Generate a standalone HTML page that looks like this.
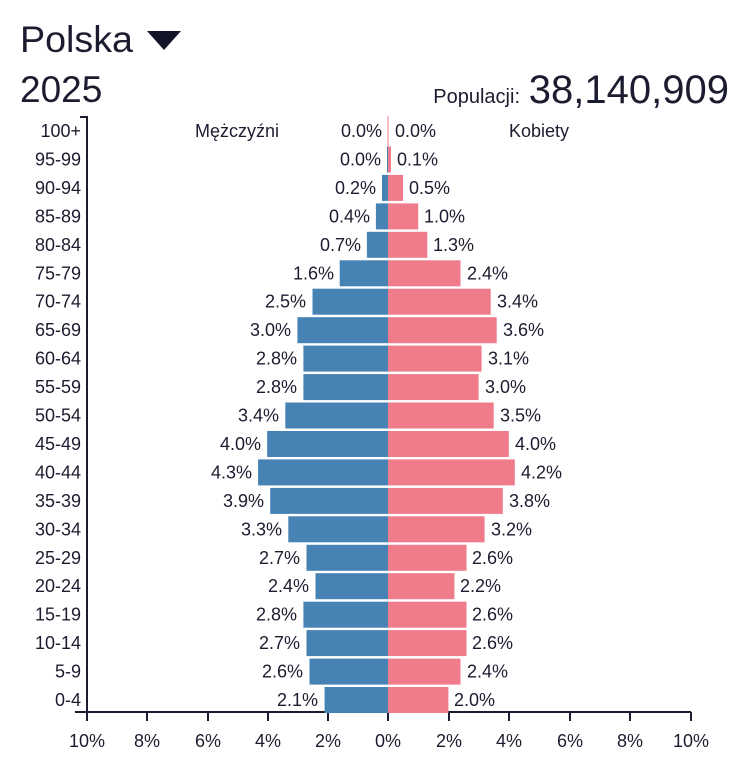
<!DOCTYPE html>
<html><head><meta charset="utf-8"><style>
html,body{margin:0;padding:0;background:#fff;width:750px;height:775px;overflow:hidden}
svg{display:block;font-family:"Liberation Sans",sans-serif;fill:#1c1c30}
</style></head><body>
<svg width="750" height="775" viewBox="0 0 750 775">
<text x="20" y="52" font-size="37" textLength="113" lengthAdjust="spacingAndGlyphs">Polska</text>
<polygon points="147,31 181,31 164,50" fill="#141428"/>
<text x="20" y="102" font-size="37">2025</text>
<text x="520" y="103" font-size="20" text-anchor="end">Populacji:</text>
<text x="729" y="103" font-size="40" text-anchor="end">38,140,909</text>
<g stroke="#1c1c30" stroke-width="2" fill="none">
<path d="M80,117 H87 V712"/>
<path d="M75,712 H691"/>
<path d="M87,712v9M147,712v9M208,712v9M268,712v9M328,712v9M388,712v9M449,712v9M509,712v9M570,712v9M630,712v9M691,712v9"/>
</g>
<g font-size="18" text-anchor="middle">
<text x="87" y="747">10%</text><text x="147" y="747">8%</text><text x="208" y="747">6%</text><text x="268" y="747">4%</text><text x="328" y="747">2%</text><text x="388" y="747">0%</text><text x="449" y="747">2%</text><text x="509" y="747">4%</text><text x="570" y="747">6%</text><text x="630" y="747">8%</text><text x="691" y="747">10%</text>
</g>
<line x1="388" y1="116" x2="388" y2="146" stroke="#f07b8a" stroke-width="1"/>
<text x="237" y="137" font-size="18" text-anchor="middle">Mężczyźni</text>
<text x="539" y="137" font-size="18" text-anchor="middle">Kobiety</text>
<g fill="#4682b4">
<rect x="387" y="146.5" width="1" height="26"/>
<rect x="382" y="174.9" width="6" height="26"/>
<rect x="375.9" y="203.4" width="12.1" height="26"/>
<rect x="366.9" y="231.8" width="21.1" height="26"/>
<rect x="339.7" y="260.3" width="48.3" height="26"/>
<rect x="312.5" y="288.7" width="75.5" height="26"/>
<rect x="297.4" y="317.2" width="90.6" height="26"/>
<rect x="303.4" y="345.6" width="84.6" height="26"/>
<rect x="303.4" y="374.1" width="84.6" height="26"/>
<rect x="285.3" y="402.5" width="102.7" height="26"/>
<rect x="267.2" y="431" width="120.8" height="26"/>
<rect x="258.1" y="459.4" width="129.9" height="26"/>
<rect x="270.2" y="487.9" width="117.8" height="26"/>
<rect x="288.3" y="516.3" width="99.7" height="26"/>
<rect x="306.5" y="544.8" width="81.5" height="26"/>
<rect x="315.5" y="573.2" width="72.5" height="26"/>
<rect x="303.4" y="601.7" width="84.6" height="26"/>
<rect x="306.5" y="630.1" width="81.5" height="26"/>
<rect x="309.5" y="658.6" width="78.5" height="26"/>
<rect x="324.6" y="687" width="63.4" height="26"/>
</g>
<g fill="#f07b8a">
<rect x="388" y="146.5" width="3" height="26"/>
<rect x="388" y="174.9" width="15.1" height="26"/>
<rect x="388" y="203.4" width="30.2" height="26"/>
<rect x="388" y="231.8" width="39.3" height="26"/>
<rect x="388" y="260.3" width="72.5" height="26"/>
<rect x="388" y="288.7" width="102.7" height="26"/>
<rect x="388" y="317.2" width="108.7" height="26"/>
<rect x="388" y="345.6" width="93.6" height="26"/>
<rect x="388" y="374.1" width="90.6" height="26"/>
<rect x="388" y="402.5" width="105.7" height="26"/>
<rect x="388" y="431" width="120.8" height="26"/>
<rect x="388" y="459.4" width="126.8" height="26"/>
<rect x="388" y="487.9" width="114.8" height="26"/>
<rect x="388" y="516.3" width="96.6" height="26"/>
<rect x="388" y="544.8" width="78.5" height="26"/>
<rect x="388" y="573.2" width="66.4" height="26"/>
<rect x="388" y="601.7" width="78.5" height="26"/>
<rect x="388" y="630.1" width="78.5" height="26"/>
<rect x="388" y="658.6" width="72.5" height="26"/>
<rect x="388" y="687" width="60.4" height="26"/>
</g>
<g font-size="18" text-anchor="end">
<text x="81" y="137">100+</text><text x="81" y="165.5">95-99</text><text x="81" y="193.9">90-94</text><text x="81" y="222.4">85-89</text><text x="81" y="250.8">80-84</text><text x="81" y="279.3">75-79</text><text x="81" y="307.7">70-74</text><text x="81" y="336.2">65-69</text><text x="81" y="364.6">60-64</text><text x="81" y="393.1">55-59</text><text x="81" y="421.5">50-54</text><text x="81" y="450">45-49</text><text x="81" y="478.4">40-44</text><text x="81" y="506.9">35-39</text><text x="81" y="535.3">30-34</text><text x="81" y="563.8">25-29</text><text x="81" y="592.2">20-24</text><text x="81" y="620.7">15-19</text><text x="81" y="649.1">10-14</text><text x="81" y="677.6">5-9</text><text x="81" y="706">0-4</text>
</g>
<g font-size="18" text-anchor="end">
<text x="382" y="137">0.0%</text>
<text x="381" y="165.5">0.0%</text>
<text x="376" y="193.9">0.2%</text>
<text x="370" y="222.4">0.4%</text>
<text x="361" y="250.8">0.7%</text>
<text x="334" y="279.3">1.6%</text>
<text x="306" y="307.7">2.5%</text>
<text x="291" y="336.2">3.0%</text>
<text x="297" y="364.6">2.8%</text>
<text x="297" y="393.1">2.8%</text>
<text x="279" y="421.5">3.4%</text>
<text x="261" y="450">4.0%</text>
<text x="252" y="478.4">4.3%</text>
<text x="264" y="506.9">3.9%</text>
<text x="282" y="535.3">3.3%</text>
<text x="300" y="563.8">2.7%</text>
<text x="309" y="592.2">2.4%</text>
<text x="297" y="620.7">2.8%</text>
<text x="300" y="649.1">2.7%</text>
<text x="303" y="677.6">2.6%</text>
<text x="318" y="706">2.1%</text>
</g>
<g font-size="18">
<text x="395" y="137">0.0%</text>
<text x="397" y="165.5">0.1%</text>
<text x="409" y="193.9">0.5%</text>
<text x="424" y="222.4">1.0%</text>
<text x="433" y="250.8">1.3%</text>
<text x="467" y="279.3">2.4%</text>
<text x="497" y="307.7">3.4%</text>
<text x="503" y="336.2">3.6%</text>
<text x="488" y="364.6">3.1%</text>
<text x="485" y="393.1">3.0%</text>
<text x="500" y="421.5">3.5%</text>
<text x="515" y="450">4.0%</text>
<text x="521" y="478.4">4.2%</text>
<text x="509" y="506.9">3.8%</text>
<text x="491" y="535.3">3.2%</text>
<text x="472" y="563.8">2.6%</text>
<text x="460" y="592.2">2.2%</text>
<text x="472" y="620.7">2.6%</text>
<text x="472" y="649.1">2.6%</text>
<text x="467" y="677.6">2.4%</text>
<text x="454" y="706">2.0%</text>
</g>
</svg>
</body></html>
